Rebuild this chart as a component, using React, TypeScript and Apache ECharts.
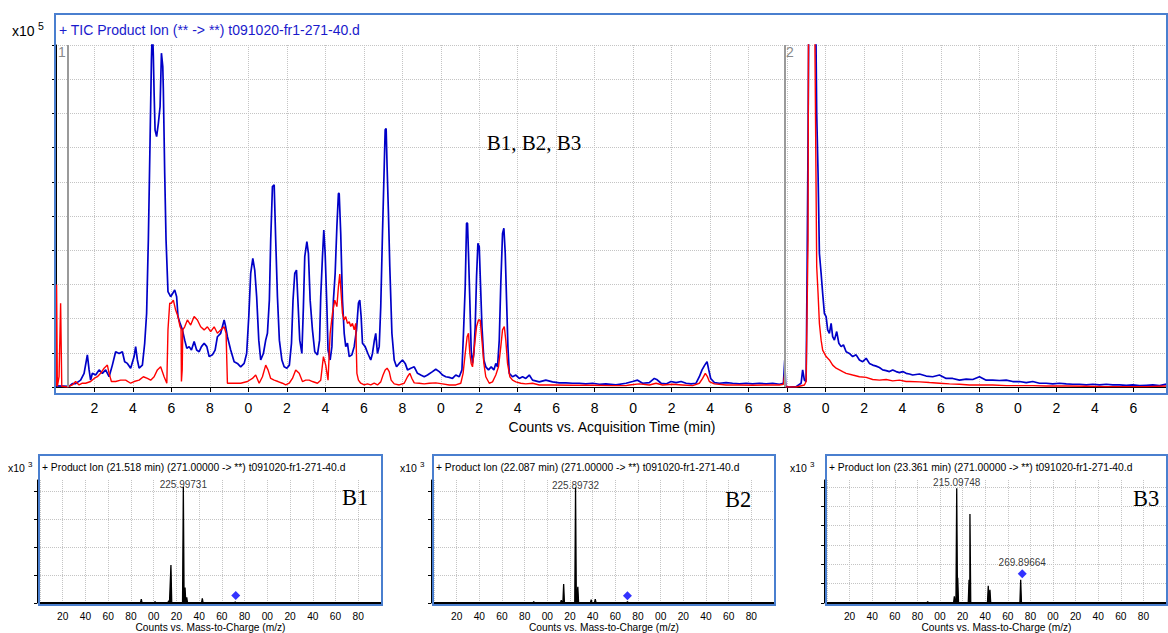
import React, { useEffect, useRef } from "react";
import * as echarts from "echarts";

// ---------- main chromatogram (time in min, intensity in grid units of the x10^5 axis) ----------
const timeMin = 0;
const timeMax = 57.8;
const timeStep = 2;
const intensityMax = 10;

const ticBlue: number[][] = [
  [0, 0.03], [0.68, 0.02], [0.85, 0.1], [1.02, 0.1], [1.28, 0.2], [1.46, 0.4], [1.63, 0.94], [1.72, 0.5], [1.8, 0.2], [1.89, 0.4],
  [2.06, 0.35], [2.24, 0.5], [2.41, 0.4], [2.58, 0.5], [2.76, 0.3], [2.93, 0.64], [3.1, 1.03], [3.28, 0.98], [3.45, 1.03], [3.57, 0.74],
  [3.71, 0.69], [3.88, 0.55], [4.06, 0.89], [4.14, 1.18], [4.23, 0.79], [4.32, 0.55], [4.49, 0.64], [4.61, 1.28], [4.71, 2.15], [4.8, 4.3],
  [4.89, 7.22], [4.96, 9.56], [5.01, 10.6], [5.06, 9.66], [5.1, 8.59], [5.15, 7.51], [5.23, 7.32], [5.32, 7.71], [5.41, 8.2], [5.48, 9.76],
  [5.55, 9.37], [5.58, 8.68], [5.65, 6.25], [5.72, 4.3], [5.82, 2.79], [5.96, 2.64], [6.07, 2.74], [6.17, 2.84], [6.27, 2.64], [6.34, 2.06],
  [6.45, 1.86], [6.57, 1.67], [6.69, 1.37], [6.8, 1.13], [6.92, 1.18], [7.04, 1.08], [7.18, 1.33], [7.31, 1.08], [7.44, 1.03], [7.56, 1.18],
  [7.7, 1.28], [7.84, 1.18], [7.96, 0.89], [8.13, 0.94], [8.27, 1.08], [8.39, 1.47], [8.56, 1.57], [8.74, 1.96], [8.82, 1.76], [8.91, 1.47],
  [9.08, 1.08], [9.26, 0.74], [9.43, 0.69], [9.6, 0.59], [9.78, 0.69], [9.91, 0.98], [10.02, 2.06], [10.12, 3.32], [10.23, 3.76], [10.33, 3.42],
  [10.43, 2.64], [10.54, 1.37], [10.64, 0.79], [10.78, 0.98], [10.9, 1.37], [10.99, 1.57], [11.09, 2.54], [11.16, 4.3], [11.25, 5.86], [11.34, 5.91],
  [11.42, 4.3], [11.51, 2.64], [11.61, 1.37], [11.74, 0.79], [11.86, 0.59], [12.0, 0.55], [12.13, 0.64], [12.24, 1.28], [12.32, 2.54], [12.41, 3.32],
  [12.5, 3.42], [12.58, 2.45], [12.67, 1.37], [12.78, 0.98], [12.86, 2.35], [12.93, 3.81], [13.04, 4.25], [13.12, 3.91], [13.21, 2.54], [13.33, 1.67],
  [13.45, 1.03], [13.59, 0.94], [13.7, 1.37], [13.76, 2.64], [13.85, 3.81], [13.92, 4.59], [13.99, 3.91], [14.08, 2.35], [14.14, 1.08], [14.25, 0.79],
  [14.34, 1.18], [14.42, 2.54], [14.51, 3.32], [14.6, 4.69], [14.68, 5.66], [14.72, 5.66], [14.8, 4.49], [14.89, 2.54], [14.98, 1.57], [15.06, 1.18],
  [15.15, 1.28], [15.24, 0.89], [15.38, 0.94], [15.5, 1.18], [15.62, 1.67], [15.72, 2.45], [15.79, 2.54], [15.86, 2.06], [15.93, 1.28], [16.07, 1.18],
  [16.21, 0.98], [16.36, 0.79], [16.45, 0.98], [16.55, 1.37], [16.62, 1.57], [16.71, 0.98], [16.8, 1.18], [16.88, 2.35], [16.97, 4.49], [17.06, 6.44],
  [17.11, 7.52], [17.16, 7.56], [17.21, 6.44], [17.28, 5.08], [17.35, 3.52], [17.46, 1.57], [17.58, 0.79], [17.7, 0.59], [17.84, 0.69], [18.01, 0.79],
  [18.15, 0.69], [18.27, 0.5], [18.44, 0.55], [18.62, 0.59], [18.79, 0.4], [18.96, 0.35], [19.14, 0.3], [19.31, 0.35], [19.57, 0.45], [19.74, 0.52],
  [19.92, 0.45], [20.09, 0.35], [20.26, 0.3], [20.44, 0.28], [20.61, 0.25], [20.78, 0.35], [20.96, 0.3], [21.1, 0.5], [21.18, 1.57], [21.27, 2.93],
  [21.34, 4.79], [21.39, 4.79], [21.44, 3.91], [21.51, 2.54], [21.58, 1.08], [21.65, 0.69], [21.72, 0.98], [21.79, 1.77], [21.86, 3.23], [21.93, 4.2],
  [22.0, 4.1], [22.07, 2.93], [22.14, 1.77], [22.24, 0.79], [22.34, 0.59], [22.48, 0.5], [22.62, 0.59], [22.76, 0.5], [22.86, 0.69], [22.95, 0.59],
  [23.04, 1.37], [23.12, 3.03], [23.21, 4.49], [23.28, 4.64], [23.35, 3.91], [23.42, 2.54], [23.49, 1.18], [23.56, 0.4], [23.73, 0.3], [23.9, 0.35],
  [24.08, 0.25], [24.25, 0.3], [24.42, 0.25], [24.6, 0.35], [24.77, 0.2], [25.12, 0.15], [25.46, 0.2], [25.81, 0.15], [26.16, 0.12], [26.5, 0.12],
  [26.85, 0.11], [27.2, 0.11], [27.54, 0.09], [27.89, 0.11], [28.24, 0.08], [28.58, 0.09], [29.1, 0.06], [29.63, 0.11], [29.97, 0.16], [30.23, 0.2],
  [30.49, 0.11], [30.84, 0.13], [31.1, 0.25], [31.22, 0.22], [31.45, 0.11], [31.71, 0.09], [31.97, 0.16], [32.23, 0.13], [32.49, 0.16], [32.75, 0.11],
  [33.01, 0.09], [33.27, 0.11], [33.44, 0.3], [33.58, 0.5], [33.72, 0.64], [33.84, 0.74], [33.93, 0.5], [34.03, 0.25], [34.22, 0.13], [34.48, 0.11],
  [34.83, 0.13], [35.17, 0.11], [35.52, 0.09], [35.87, 0.11], [36.21, 0.09], [36.56, 0.11], [36.91, 0.09], [37.25, 0.11], [37.6, 0.08], [37.81, 0.11],
  [37.88, 0.79], [37.93, 0.01], [38.12, 0.0], [38.47, 0.01], [38.73, 0.11], [38.81, 0.5], [38.9, 0.2], [38.99, 0.16], [39.04, 3.32], [39.09, 7.22],
  [39.14, 12], [39.47, 12], [39.54, 8.0], [39.61, 6.25], [39.68, 3.91], [39.77, 3.32], [39.85, 2.74], [39.94, 2.15], [40.03, 2.06], [40.11, 1.67],
  [40.2, 1.57], [40.29, 1.86], [40.37, 1.47], [40.46, 1.37], [40.58, 1.62], [40.69, 1.28], [40.81, 1.18], [40.93, 1.23], [41.07, 1.03], [41.24, 0.98],
  [41.41, 0.89], [41.59, 0.94], [41.76, 0.79], [41.93, 0.74], [42.11, 0.84], [42.28, 0.69], [42.45, 0.64], [42.63, 0.61], [42.8, 0.57], [42.97, 0.5],
  [43.15, 0.48], [43.32, 0.45], [43.49, 0.5], [43.67, 0.45], [43.84, 0.42], [44.01, 0.45], [44.19, 0.4], [44.36, 0.38], [44.53, 0.35], [44.88, 0.38],
  [45.23, 0.32], [45.57, 0.3], [45.92, 0.35], [46.27, 0.25], [46.61, 0.25], [46.96, 0.2], [47.31, 0.23], [47.65, 0.22], [48.0, 0.3], [48.35, 0.2],
  [48.69, 0.2], [49.04, 0.19], [49.39, 0.2], [49.73, 0.16], [50.08, 0.16], [50.43, 0.13], [50.77, 0.16], [51.12, 0.11], [51.47, 0.11], [51.81, 0.09],
  [52.16, 0.11], [52.51, 0.09], [52.85, 0.08], [53.2, 0.08], [53.55, 0.06], [53.89, 0.08], [54.24, 0.06], [54.59, 0.08], [54.93, 0.06], [55.28, 0.06],
  [55.63, 0.05], [55.97, 0.06], [56.32, 0.04], [56.67, 0.05], [57.01, 0.06], [57.36, 0.04], [57.78, 0.09],
];

const ticRed: number[][] = [
  [0, 0.02], [0.03, 3.0], [0.07, 0.02], [0.16, 0.3], [0.24, 2.45], [0.3, 0.02], [0.59, 0.0], [0.85, 0.06], [1.02, 0.16], [1.2, 0.06],
  [1.37, 0.11], [1.54, 0.11], [1.8, 0.16], [1.98, 0.25], [2.15, 0.3], [2.32, 0.4], [2.5, 0.55], [2.67, 0.64], [2.76, 0.4], [2.88, 0.16],
  [3.1, 0.16], [3.36, 0.2], [3.62, 0.2], [3.88, 0.11], [4.06, 0.16], [4.32, 0.2], [4.54, 0.3], [4.75, 0.25], [4.92, 0.2], [5.1, 0.3],
  [5.27, 0.5], [5.44, 0.59], [5.62, 0.3], [5.76, 0.11], [5.82, 1.67], [5.91, 2.45], [6.0, 2.45], [6.1, 2.54], [6.22, 2.25], [6.34, 2.06],
  [6.45, 1.76], [6.5, 1.7], [6.52, 0.16], [6.56, 0.5], [6.59, 1.67], [6.69, 1.76], [6.83, 1.96], [7.0, 1.81], [7.18, 2.06], [7.35, 1.96],
  [7.52, 1.76], [7.7, 1.67], [7.87, 1.76], [8.04, 1.62], [8.22, 1.76], [8.39, 1.57], [8.56, 1.67], [8.74, 1.76], [8.84, 1.57], [8.91, 0.11],
  [9.08, 0.11], [9.34, 0.11], [9.6, 0.11], [9.95, 0.16], [10.21, 0.25], [10.38, 0.35], [10.56, 0.11], [10.73, 0.3], [10.9, 0.64], [11.02, 0.5],
  [11.16, 0.25], [11.34, 0.2], [11.54, 0.16], [11.77, 0.11], [11.94, 0.06], [12.12, 0.11], [12.29, 0.25], [12.46, 0.5], [12.64, 0.4], [12.81, 0.16],
  [12.98, 0.2], [13.16, 0.2], [13.33, 0.16], [13.59, 0.11], [13.76, 0.2], [13.9, 0.89], [14.02, 0.64], [14.14, 0.2], [14.25, 1.57], [14.37, 2.15],
  [14.49, 2.54], [14.6, 2.35], [14.68, 2.93], [14.75, 3.3], [14.82, 2.74], [14.89, 2.15], [14.98, 1.96], [15.06, 2.06], [15.15, 1.86], [15.24, 1.91],
  [15.32, 1.77], [15.41, 1.86], [15.5, 1.67], [15.58, 1.86], [15.64, 0.4], [15.72, 0.2], [15.84, 0.11], [16.02, 0.06], [16.19, 0.09], [16.36, 0.06],
  [16.54, 0.11], [16.71, 0.06], [16.88, 0.15], [17.0, 0.35], [17.11, 0.5], [17.21, 0.55], [17.32, 0.45], [17.42, 0.2], [17.58, 0.09], [17.84, 0.06],
  [18.1, 0.11], [18.27, 0.3], [18.39, 0.4], [18.5, 0.25], [18.62, 0.12], [18.88, 0.11], [19.14, 0.09], [19.4, 0.11], [19.74, 0.12], [20.09, 0.09],
  [20.44, 0.06], [20.78, 0.06], [21.04, 0.11], [21.16, 0.4], [21.27, 0.98], [21.37, 1.47], [21.44, 1.57], [21.51, 0.98], [21.58, 0.69], [21.65, 0.59],
  [21.75, 1.18], [21.86, 1.77], [21.96, 1.96], [22.05, 1.96], [22.14, 1.37], [22.24, 0.69], [22.34, 0.3], [22.52, 0.11], [22.69, 0.15], [22.86, 0.35],
  [23.0, 0.59], [23.12, 1.18], [23.21, 1.67], [23.3, 1.77], [23.38, 1.37], [23.47, 0.69], [23.59, 0.3], [23.73, 0.2], [23.9, 0.15], [24.16, 0.11],
  [24.42, 0.09], [24.77, 0.11], [25.12, 0.06], [25.81, 0.06], [26.85, 0.05], [27.89, 0.05], [28.93, 0.04], [29.62, 0.04], [29.8, 0.06], [30.32, 0.09],
  [30.84, 0.06], [31.19, 0.11], [31.53, 0.06], [32.05, 0.08], [32.57, 0.06], [33.09, 0.04], [33.44, 0.11], [33.61, 0.25], [33.75, 0.4], [33.86, 0.3],
  [33.96, 0.16], [34.22, 0.09], [34.83, 0.06], [35.52, 0.06], [36.21, 0.05], [36.91, 0.06], [37.6, 0.06], [37.81, 0.08], [37.88, 0.4], [37.93, 0.0],
  [38.47, 0.0], [38.9, 0.06], [38.99, 0.16], [39.09, 4.3], [39.12, 12], [39.42, 12], [39.54, 3.52], [39.61, 2.74], [39.68, 1.86], [39.77, 1.37],
  [39.85, 1.08], [40.03, 0.89], [40.2, 0.79], [40.37, 0.64], [40.55, 0.55], [40.72, 0.5], [40.89, 0.45], [41.07, 0.4], [41.41, 0.35], [41.76, 0.3],
  [42.11, 0.28], [42.45, 0.22], [42.8, 0.2], [43.15, 0.22], [43.49, 0.18], [43.84, 0.2], [44.19, 0.16], [44.36, 0.16], [44.9, 0.15], [45.4, 0.13],
  [45.92, 0.11], [46.44, 0.09], [46.96, 0.08], [47.48, 0.06], [48.0, 0.06], [48.69, 0.06], [49.39, 0.04], [50.08, 0.04], [50.77, 0.04], [51.47, 0.03],
  [52.51, 0.03], [53.55, 0.02], [54.59, 0.01], [55.63, 0.01], [56.67, 0.01], [57.78, 0.03],
];

const markerTimes = [0.62, 37.86];
const markerNames = ["1", "2"];

// ---------- product ion spectra (m/z, counts x10^3) ----------
const mzMin = 100;
const mzMax = 400;
const mzStep = 20;

const b1Peaks: number[][] = [[189.1, 0.14], [201.2, 0.05], [213.2, 0.08], [215.2, 1.36], [226.1, 4.15], [227.6, 0.55], [229.1, 0.2], [242.8, 0.17], [271.8, 0.04]];
const b2Peaks: number[][] = [[188.0, 0.05], [212.3, 0.1], [214.4, 0.68], [224.9, 4.13], [226.9, 0.58], [238.7, 0.12], [242.3, 0.14], [270.7, 0.05]];
const b3Peaks: number[][] = [[189.1, 0.08], [212.7, 0.34], [214.8, 5.93], [215.7, 1.3], [225.7, 1.2], [226.5, 4.6], [242.7, 0.89], [244.2, 0.68], [271.4, 1.2]];

const b1Labeled = { mz: 226.1, counts: 4.15, text: "225.99731" };
const b2Labeled = { mz: 224.9, counts: 4.13, text: "225.89732" };
const b3Labeled = { mz: 214.8, counts: 5.93, text: "215.09748" };

const b1Precursor = [272.2, 0.27];
const b2Precursor = [270.7, 0.26];
const b3Precursor = [272.8, 1.51];
const b3PrecursorText = "269.89664";

const spectrumYMax = [4.4, 4.4, 6.36];
const spectrumYTicks = [[0, 1, 2, 3, 4], [0, 1, 2, 3, 4], [0, 1, 2, 3, 4, 5, 6]];
const spectrumTitles = [
  "+ Product Ion (21.518 min) (271.00000 -> **) t091020-fr1-271-40.d",
  "+ Product Ion (22.087 min) (271.00000 -> **) t091020-fr1-271-40.d",
  "+ Product Ion (23.361 min) (271.00000 -> **) t091020-fr1-271-40.d",
];
const spectrumTags = ["B1", "B2", "B3"];
const mainTitle = "+ TIC Product Ion (** -> **) t091020-fr1-271-40.d";
const mainXName = "Counts vs. Acquisition Time (min)";
const spectrumXName = "Counts vs. Mass-to-Charge (m/z)";
const peakGroupTag = "B1, B2, B3";

// ---------- styling ----------
const SANS = '"Liberation Sans", Arial, Helvetica, sans-serif';
const SERIF = '"Liberation Serif", "Times New Roman", serif';
const FRAME = "#4a7fcf";
const GRIDLINE = { show: true, lineStyle: { type: "dotted", color: "#c4c4c4", width: 1 } };

const panelGrids = [
  { left: 40, right: 787, top: 480, bottom: 30 },
  { left: 434, right: 394, top: 480, bottom: 30 },
  { left: 827, right: 2, top: 480, bottom: 30 },
];
const panelFrames = [
  { x: 39, w: 343, tagX: 355, tagY: 497, x10: 8 },
  { x: 433, w: 342, tagX: 738, tagY: 499, x10: 400 },
  { x: 826, w: 341, tagX: 1146, tagY: 498, x10: 790 },
];

function sticks(peaks: number[][]) {
  const pts: number[][] = [[mzMin, 0]];
  peaks.forEach(([mz, h]) => {
    pts.push([mz - 0.7, 0], [mz, h], [mz + 0.7, 0]);
  });
  pts.push([mzMax, 0]);
  return pts;
}

function buildOption() {
  const spectra = [b1Peaks, b2Peaks, b3Peaks];
  const labeled = [b1Labeled, b2Labeled, b3Labeled];
  const precursors = [b1Precursor, b2Precursor, b3Precursor];

  const xAxis: any[] = [
    {
      type: "value", gridIndex: 0, min: timeMin, max: timeMax, interval: timeStep, offset: 10,
      axisLine: { show: true, lineStyle: { color: "#000", width: 1 } },
      axisTick: { show: true, length: 5, lineStyle: { color: "#000" } },
      axisLabel: {
        color: "#000", fontSize: 14, fontFamily: SANS, margin: 4, showMinLabel: false, showMaxLabel: false,
        formatter: (v: number) => String(Math.round(v) % 10),
      },
      splitLine: GRIDLINE,
      name: mainXName, nameLocation: "middle", nameGap: 20,
      nameTextStyle: { color: "#000", fontSize: 14, fontFamily: SANS },
    },
  ];
  const yAxis: any[] = [
    {
      type: "value", gridIndex: 0, min: 0, max: intensityMax, interval: 1, offset: 3,
      axisLine: { show: true, lineStyle: { color: "#000", width: 1 } },
      axisTick: { show: true, length: 4, lineStyle: { color: "#000" } },
      axisLabel: { show: false },
      splitLine: GRIDLINE,
    },
  ];
  const series: any[] = [
    {
      type: "line", xAxisIndex: 0, yAxisIndex: 0, data: ticBlue, showSymbol: false, symbol: "none",
      lineStyle: { color: "#0000c8", width: 1.7 }, z: 3,
      markLine: {
        silent: true, symbol: ["none", "none"], label: { show: false },
        lineStyle: { color: "#9a9a9a", width: 2, type: "solid" },
        data: markerTimes.map((t) => ({ xAxis: t })),
      },
    },
    {
      type: "line", xAxisIndex: 0, yAxisIndex: 0, data: ticRed, showSymbol: false, symbol: "none",
      lineStyle: { color: "#ff0000", width: 1.4 }, z: 4,
    },
  ];

  for (let i = 0; i < 3; i++) {
    const ax = i + 1;
    xAxis.push({
      type: "value", gridIndex: ax, min: mzMin, max: mzMax, interval: mzStep,
      axisLine: { show: true, onZero: false, lineStyle: { color: "#000", width: 2 } },
      axisTick: { show: false },
      axisLabel: {
        color: "#000", fontSize: 10.2, fontFamily: SANS, margin: 8, showMinLabel: false, showMaxLabel: false,
        formatter: (v: number) => String(Math.round(v) % 100).padStart(2, "0"),
      },
      splitLine: GRIDLINE,
      name: spectrumXName, nameLocation: "middle", nameGap: 19,
      nameTextStyle: { color: "#000", fontSize: 10.2, fontFamily: SANS },
    });
    yAxis.push({
      type: "value", gridIndex: ax, min: 0, max: spectrumYMax[i], interval: 1, offset: 3,
      axisLine: { show: true, lineStyle: { color: "#000", width: 1 } },
      axisTick: { show: true, length: 3, customValues: spectrumYTicks[i], lineStyle: { color: "#000" } },
      axisLabel: { show: false },
      splitLine: GRIDLINE,
    });
    series.push({
      type: "line", xAxisIndex: ax, yAxisIndex: ax, data: sticks(spectra[i]), showSymbol: false, symbol: "none",
      lineStyle: { color: "#000", width: 1.3 }, areaStyle: { color: "#000", opacity: 1 }, z: 3,
    });
    series.push({
      type: "scatter", xAxisIndex: ax, yAxisIndex: ax, symbolSize: 1,
      itemStyle: { color: "rgba(0,0,0,0)" }, z: 5,
      data: [{
        value: [labeled[i].mz, labeled[i].counts],
        label: {
          show: true, formatter: labeled[i].text, position: "top", distance: i === 2 ? 0 : -3,
          color: "#000", fontSize: 10, fontFamily: SANS,
        },
      }],
    });
    series.push({
      type: "scatter", xAxisIndex: ax, yAxisIndex: ax, symbol: "diamond", symbolSize: 9,
      itemStyle: { color: "#0000ff" }, z: 6,
      data: [{
        value: precursors[i],
        label: i === 2
          ? { show: true, formatter: b3PrecursorText, position: "top", distance: 2, color: "#000", fontSize: 10, fontFamily: SANS }
          : { show: false },
      }],
    });
  }

  const graphic: any[] = [
    { type: "rect", z: 100, shape: { x: 55, y: 14, width: 1112, height: 380 }, style: { fill: "none", stroke: FRAME, lineWidth: 2 } },
    { type: "text", z: 101, x: 59, y: 30, style: { text: mainTitle, fill: "#1a1acc", fontSize: 14, fontFamily: SANS, verticalAlign: "middle" } },
    { type: "text", z: 101, x: 12, y: 31, style: { text: "x10", fill: "#000", fontSize: 14, fontFamily: SANS, verticalAlign: "middle" } },
    { type: "text", z: 101, x: 38, y: 26, style: { text: "5", fill: "#000", fontSize: 10.5, fontFamily: SANS, verticalAlign: "middle" } },
    { type: "text", z: 101, x: 62, y: 52, style: { text: markerNames[0], fill: "#8a8a8a", fontSize: 14, fontFamily: SANS, align: "center", verticalAlign: "middle" } },
    { type: "text", z: 101, x: 790, y: 52, style: { text: markerNames[1], fill: "#8a8a8a", fontSize: 14, fontFamily: SANS, align: "center", verticalAlign: "middle" } },
    { type: "text", z: 101, x: 534, y: 143, style: { text: peakGroupTag, fill: "#000", fontSize: 21, fontFamily: SERIF, align: "center", verticalAlign: "middle" } },
  ];
  panelFrames.forEach((p, i) => {
    graphic.push(
      { type: "rect", z: 100, shape: { x: p.x, y: 455, width: p.w, height: 150 }, style: { fill: "none", stroke: FRAME, lineWidth: 2 } },
      { type: "text", z: 101, x: p.x + 3, y: 467, style: { text: spectrumTitles[i], fill: "#000", fontSize: 10.3, fontFamily: SANS, verticalAlign: "middle" } },
      { type: "text", z: 101, x: p.x10, y: 468, style: { text: "x10", fill: "#000", fontSize: 10.5, fontFamily: SANS, verticalAlign: "middle" } },
      { type: "text", z: 101, x: p.x10 + 20, y: 464, style: { text: "3", fill: "#000", fontSize: 8, fontFamily: SANS, verticalAlign: "middle" } },
      { type: "text", z: 101, x: p.tagX, y: p.tagY, style: { text: spectrumTags[i], fill: "#000", fontSize: 22.5, fontFamily: SERIF, align: "center", verticalAlign: "middle" } },
    );
  });

  return {
    animation: false,
    backgroundColor: "#ffffff",
    grid: [{ left: 56, right: 0, top: 45, bottom: 246 }, ...panelGrids],
    xAxis,
    yAxis,
    series,
    graphic,
  };
}

export default function App() {
  const ref = useRef<HTMLDivElement>(null);
  useEffect(() => {
    if (!ref.current) return;
    const chart = echarts.init(ref.current, null, { renderer: "svg" });
    chart.setOption(buildOption() as any);
    return () => chart.dispose();
  }, []);
  return (
    <div
      ref={ref}
      style={{ position: "fixed", left: 0, top: 0, width: 1168, height: 633, background: "#fff" }}
    />
  );
}
